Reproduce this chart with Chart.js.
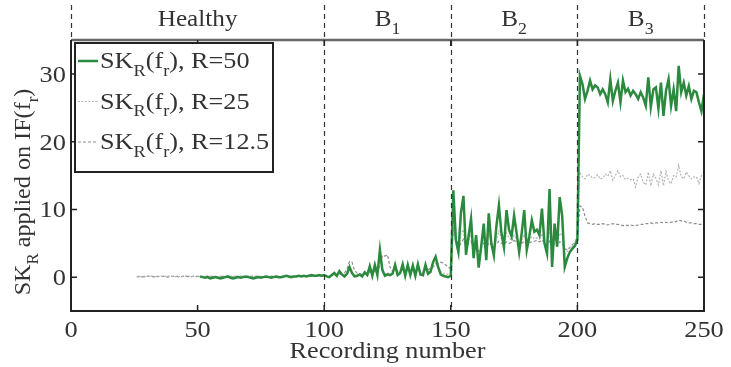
<!DOCTYPE html>
<html>
<head>
<meta charset="utf-8">
<script src="https://cdn.jsdelivr.net/npm/chart.js@4.4.1/dist/chart.umd.min.js"></script>
<style>
  body { margin: 0; background: #fff; }
</style>
</head>
<body>
<canvas id="c" width="731" height="367"></canvas>
<script>
// axis ticks and stage bands
const xTicks = [0, 50, 100, 150, 200, 250];
const yTicks = [0, 10, 20, 30];
const stageMain = ['Healthy', 'B', 'B', 'B'];
const stageSub = ['', '1', '2', '3'];
const stageEdges = [0, 100, 150, 200, 250];
const legendNames = [', R=50', ', R=25', ', R=12.5'];

// SK_R, R=50 (recordings 51..250)
const greenStart = 51;
const green = [
  0.1, 0.0, -0.1, 0.0, -0.2, -0.1, 0.0, -0.1, -0.2, -0.1,
  0.0, 0.1, -0.1, -0.2, -0.1, 0.0, -0.1, 0.0, 0.1, 0.0,
  -0.1, -0.2, -0.1, 0.0, -0.1, 0.0, 0.1, 0.0, -0.1, 0.0,
  0.1, 0.0, 0.0, 0.1, 0.2, 0.1, 0.0, 0.1, 0.1, 0.2,
  0.1, 0.2, 0.1, 0.2, 0.3, 0.2, 0.2, 0.3, 0.2, 0.3,
  0.1, 0.0, 0.3, 0.6, 0.2, 0.9, 0.4, 0.1, 0.5, 1.5,
  0.6, 0.1, 0.2, 0.4, 0.1, 0.7, 0.3, 1.6, 0.2, 1.8,
  0.3, 4.0, 1.0, 0.2, 0.4, 0.3, 0.5, 1.8, 0.3, 0.6,
  1.9, 0.2, 1.8, 0.3, 1.7, 0.2, 1.9, 0.4, 0.3, 1.8,
  0.5, 0.8, 2.2, 3.0, 1.5, 0.4, 0.2, 0.1, 0.0, 0.2,
  12.8, 5.5, 3.7, 9.5, 12.0, 3.3, 6.0, 8.6, 2.8, 6.2,
  1.4, 4.5, 7.9, 2.5, 9.4, 5.0, 3.2, 7.5, 10.6, 6.5,
  4.4, 9.9, 7.0, 6.0, 9.1, 6.5, 3.7, 6.5, 9.9, 4.0,
  6.0, 8.4, 6.7, 7.0, 6.2, 10.1, 5.0, 3.5, 13.0, 1.5,
  7.9, 4.5, 11.8, 9.0, 1.5, 2.8, 3.7, 4.2, 4.6, 5.5,
  29.7, 28.5, 26.3, 27.5, 29.0, 27.7, 28.3, 28.0, 27.0, 27.7,
  27.0, 25.8, 29.2, 26.0, 27.5, 28.7, 25.8, 29.0, 27.3, 27.8,
  26.8, 27.5, 27.0, 26.3, 27.3, 26.5, 25.3, 29.5, 25.1, 27.7,
  28.0, 24.9, 28.7, 23.8, 27.5, 29.2, 25.3, 27.7, 24.5, 31.2,
  27.3, 28.7, 26.8, 28.2, 26.3, 27.5, 27.3, 25.8, 24.5, 27.0
];

// SK_R, R=25 (recordings 26..250)
const r25Start = 26;
const r25 = [
  0.1, 0.1, 0.0, 0.1, 0.1, 0.2, 0.1, 0.1, 0.0, 0.1,
  0.1, 0.1, 0.2, 0.1, 0.1, 0.1, 0.0, 0.1, 0.1, 0.1,
  0.2, 0.1, 0.1, 0.1, 0.0, 0.1, 0.1, 0.1, 0.2, 0.1,
  0.1, 0.0, 0.1, 0.1, 0.1, 0.1, 0.2, 0.1, 0.1, 0.1,
  0.0, 0.1, 0.1, 0.1, 0.2, 0.1, 0.1, 0.1, 0.1, 0.0,
  0.1, 0.1, 0.1, 0.2, 0.1, 0.1, 0.1, 0.1, 0.1, 0.2,
  0.1, 0.1, 0.2, 0.1, 0.1, 0.2, 0.1, 0.2, 0.2, 0.1,
  0.2, 0.2, 0.1, 0.2, 0.2,
  0.1, 0.1, 0.3, 0.4, 0.3, 0.6, 0.4, 0.3, 0.5, 1.1,
  0.7, 0.3, 0.2, 0.4, 0.3, 0.5, 0.4, 1.2, 0.5, 1.3,
  0.4, 2.8, 1.2, 0.5, 0.6, 0.5, 0.6, 1.3, 0.6, 0.7,
  1.4, 0.5, 1.3, 0.6, 1.2, 0.5, 1.4, 0.7, 0.6, 1.3,
  0.8, 0.9, 1.6, 2.1, 1.3, 0.8, 0.6, 0.5, 0.4, 0.5,
  7.5, 5.0, 3.5, 6.5, 7.0, 3.6, 5.2, 6.4, 3.2, 5.3,
  2.8, 4.6, 6.1, 3.5, 6.4, 5.1, 4.0, 5.5, 6.8, 5.6,
  4.9, 6.5, 5.8, 5.4, 6.2, 5.5, 4.5, 5.4, 6.3, 4.8,
  5.5, 6.0, 5.7, 5.8, 5.6, 6.4, 5.0, 4.6, 7.0, 3.5,
  5.8, 4.9, 6.5, 6.1, 3.4, 3.8, 4.3, 4.6, 5.1, 6.0,
  15.5, 14.8, 14.5, 15.2, 15.0, 14.6, 14.7, 15.1, 14.5, 14.6,
  15.2, 14.9, 15.7, 14.3, 15.0, 15.7, 14.8, 15.0, 14.4, 14.6,
  14.4, 14.5, 13.3, 14.8, 15.2, 14.0, 13.6, 15.5, 13.5, 15.2,
  14.6, 13.6, 15.7, 13.5, 15.6, 14.2, 13.8, 15.0, 14.8, 16.5,
  14.8, 14.5, 15.5, 15.0, 14.5, 14.8, 14.8, 13.8, 15.0, 14.9
];

// SK_R, R=12.5 (recordings 26..250)
const r12Start = 26;
const r12 = [
  0.0, 0.1, 0.1, 0.0, 0.1, 0.1, 0.1, 0.0, 0.1, 0.1,
  0.1, 0.1, 0.0, 0.1, 0.1, 0.1, 0.1, 0.0, 0.1, 0.1,
  0.1, 0.0, 0.1, 0.1, 0.1, 0.1, 0.0, 0.1, 0.1, 0.1,
  0.1, 0.1, 0.0, 0.1, 0.1, 0.1, 0.1, 0.1, 0.0, 0.1,
  0.1, 0.1, 0.1, 0.0, 0.1, 0.1, 0.1, 0.1, 0.1, 0.1,
  0.0, 0.1, 0.1, 0.1, 0.1, 0.1, 0.1, 0.0, 0.1, 0.1,
  0.1, 0.1, 0.1, 0.1, 0.1, 0.1, 0.1, 0.1, 0.1, 0.1,
  0.1, 0.1, 0.1, 0.1, 0.1,
  0.1, 0.2, 0.2, 0.3, 0.3, 0.4, 0.5, 0.6, 1.2, 2.3,
  2.2, 1.0, 0.6, 0.5, 0.4, 0.6, 0.5, 0.8, 0.6, 0.9,
  0.7, 1.8, 3.2, 3.1, 3.3, 1.5, 0.8, 1.0, 0.9, 0.8,
  1.1, 0.9, 1.0, 0.8, 1.0, 0.9, 1.1, 0.9, 0.8, 1.0,
  1.1, 1.3, 1.5, 1.8, 2.0, 2.2, 2.1, 1.8, 1.5, 1.2,
  7.0, 5.5, 4.2, 5.0, 5.6, 4.3, 5.0, 5.3, 4.1, 4.8,
  3.8, 4.5, 5.0, 4.2, 5.1, 4.8, 4.5, 4.9, 5.3, 5.0,
  4.8, 5.2, 5.0, 5.1, 5.4, 5.2, 4.8, 5.0, 5.3, 4.9,
  5.1, 5.2, 5.3, 5.4, 5.2, 5.5, 5.0, 4.7, 5.3, 4.4,
  5.0, 4.6, 5.2, 5.0, 4.2, 4.0, 4.4, 4.8, 5.1, 6.0,
  10.5, 10.3, 9.0, 8.0, 7.9, 7.8, 7.9, 7.8, 7.8, 7.9,
  7.8, 7.7, 7.8, 7.9, 7.8, 7.8, 7.7, 7.6, 7.7, 7.6,
  7.7, 7.6, 7.6, 7.7, 7.8, 7.8, 7.9, 7.9, 8.0, 7.9,
  8.0, 8.0, 8.1, 8.0, 8.1, 8.0, 8.1, 8.2, 8.2, 8.4,
  8.3, 8.3, 8.1, 8.0, 8.0, 7.9, 7.9, 7.8, 7.8, 7.7
];

const FONT = '"Liberation Serif", "DejaVu Serif", serif';
const TXT = '#333';
const colGreen = '#2b8a3e';
const colR25 = '#b4b4b4';
const colR12 = '#8c8c8c';

function toPoints(start, arr) {
  return arr.map((v, i) => ({ x: start + i, y: v }));
}

// text with subscripts: parts = [[text, isSub], ...], sx = horizontal stretch
function richWidth(ctx, parts, size, sx) {
  let w = 0;
  parts.forEach(p => {
    ctx.font = (p[1] ? Math.round(size * 0.7) : size) + 'px ' + FONT;
    w += ctx.measureText(p[0]).width;
  });
  return w * sx;
}
function drawRich(ctx, parts, x, y, size, sx) {
  ctx.save();
  ctx.translate(x, y);
  ctx.scale(sx, 1);
  ctx.textAlign = 'left';
  ctx.textBaseline = 'alphabetic';
  let cx = 0;
  parts.forEach(p => {
    ctx.font = (p[1] ? Math.round(size * 0.7) : size) + 'px ' + FONT;
    ctx.fillText(p[0], cx, p[1] ? size * 0.33 : 0);
    cx += ctx.measureText(p[0]).width;
  });
  ctx.restore();
}

const decorPlugin = {
  id: 'decor',
  afterDatasetsDraw(chart) {
    const ctx = chart.ctx;
    const a = chart.chartArea;
    const xs = chart.scales.x, ys = chart.scales.y;
    ctx.save();

    // dashed stage separators
    ctx.strokeStyle = '#333';
    ctx.lineWidth = 1.2;
    ctx.setLineDash([5, 4]);
    stageEdges.forEach(v => {
      const px = Math.round(xs.getPixelForValue(v)) + 0.5;
      const inner = v > 0 && v < 250;
      ctx.beginPath();
      ctx.moveTo(px, 5);
      ctx.lineTo(px, inner ? a.bottom : a.top);
      ctx.stroke();
    });
    ctx.setLineDash([]);

    // frame
    ctx.strokeStyle = '#666';
    ctx.lineWidth = 2.5;
    ctx.beginPath();
    ctx.moveTo(a.left, a.top);
    ctx.lineTo(a.right, a.top);
    ctx.stroke();
    ctx.strokeStyle = '#222';
    ctx.lineWidth = 2;
    ctx.beginPath();
    ctx.moveTo(a.left, a.top);
    ctx.lineTo(a.left, a.bottom);
    ctx.lineTo(a.right, a.bottom);
    ctx.lineTo(a.right, a.top);
    ctx.stroke();

    // inward tick marks
    ctx.lineWidth = 1.5;
    ctx.beginPath();
    xTicks.slice(1, -1).forEach(v => {
      const px = xs.getPixelForValue(v);
      ctx.moveTo(px, a.bottom); ctx.lineTo(px, a.bottom - 6);
      ctx.moveTo(px, a.top); ctx.lineTo(px, a.top + 6);
    });
    yTicks.forEach(v => {
      const py = ys.getPixelForValue(v);
      ctx.moveTo(a.left, py); ctx.lineTo(a.left + 6, py);
      ctx.moveTo(a.right, py); ctx.lineTo(a.right - 6, py);
    });
    ctx.stroke();

    ctx.fillStyle = TXT;
    // tick labels
    xTicks.forEach(v => {
      const t = String(v);
      const w = richWidth(ctx, [[t, false]], 24, 1.1);
      drawRich(ctx, [[t, false]], xs.getPixelForValue(v) - w / 2, 337, 24, 1.1);
    });
    yTicks.forEach(v => {
      const t = String(v);
      const w = richWidth(ctx, [[t, false]], 24, 1.1);
      drawRich(ctx, [[t, false]], a.left - 5 - w, ys.getPixelForValue(v) + 8, 24, 1.1);
    });

    // stage labels
    for (let i = 0; i < stageMain.length; i++) {
      const cx = xs.getPixelForValue((stageEdges[i] + stageEdges[i + 1]) / 2);
      const parts = [[stageMain[i], false]];
      if (stageSub[i]) parts.push([stageSub[i], true]);
      const w = richWidth(ctx, parts, 24, 1.05);
      drawRich(ctx, parts, cx - w / 2, 26, 24, 1.05);
    }

    // x title
    const xParts = [['Recording number', false]];
    const xw = richWidth(ctx, xParts, 23, 1.14);
    drawRich(ctx, xParts, (a.left + a.right) / 2 - xw / 2, 358, 23, 1.14);

    // y title
    const yParts = [['SK', false], ['R', true], [' applied on IF(f', false], ['r', true], [')', false]];
    const yw = richWidth(ctx, yParts, 23, 1.05);
    ctx.save();
    ctx.translate(30, 192);
    ctx.rotate(-Math.PI / 2);
    drawRich(ctx, yParts, -yw / 2, 0, 23, 1.05);
    ctx.restore();

    // legend box
    ctx.fillStyle = '#fff';
    ctx.fillRect(75, 43, 198, 129);
    ctx.strokeStyle = '#222';
    ctx.lineWidth = 2;
    ctx.strokeRect(75, 43, 198, 129);
    const ds = chart.data.datasets;
    ds.forEach((d, i) => {
      const ly = 61 + i * 40.5;
      ctx.strokeStyle = d.borderColor;
      ctx.lineWidth = d.borderWidth;
      ctx.setLineDash(d.borderDash || []);
      ctx.beginPath();
      ctx.moveTo(78, ly); ctx.lineTo(98, ly);
      ctx.stroke();
      ctx.setLineDash([]);
      ctx.fillStyle = TXT;
      drawRich(ctx, [['SK', false], ['R', true], ['(f', false], ['r', true], [')' + legendNames[i], false]], 100, ly + 7, 23, 1.14);
    });
    ctx.restore();
  }
};

new Chart(document.getElementById('c'), {
  type: 'line',
  data: {
    datasets: [
      { label: 'R=50', data: toPoints(greenStart, green), borderColor: colGreen, borderWidth: 2.5, pointRadius: 0, tension: 0 },
      { label: 'R=25', data: toPoints(r25Start, r25), borderColor: colR25, borderWidth: 1.2, borderDash: [2, 1.5], pointRadius: 0, tension: 0 },
      { label: 'R=12.5', data: toPoints(r12Start, r12), borderColor: colR12, borderWidth: 1.2, borderDash: [3, 2], pointRadius: 0, tension: 0 }
    ]
  },
  options: {
    responsive: false,
    animation: false,
    devicePixelRatio: 1,
    layout: { padding: { top: 40, right: 27, left: 0, bottom: 0 } },
    plugins: { legend: { display: false }, tooltip: { enabled: false } },
    scales: {
      x: {
        type: 'linear', min: 0, max: 250,
        afterBuildTicks: s => { s.ticks = xTicks.map(v => ({ value: v })); },
        afterFit: s => { s.height = 56; },
        grid: { display: false }, border: { display: false },
        ticks: { display: false }
      },
      y: {
        min: -5, max: 35,
        afterBuildTicks: s => { s.ticks = yTicks.map(v => ({ value: v })); },
        afterFit: s => { s.width = 71; },
        grid: { display: false }, border: { display: false },
        ticks: { display: false }
      }
    }
  },
  plugins: [decorPlugin]
});
</script>
</body>
</html>
